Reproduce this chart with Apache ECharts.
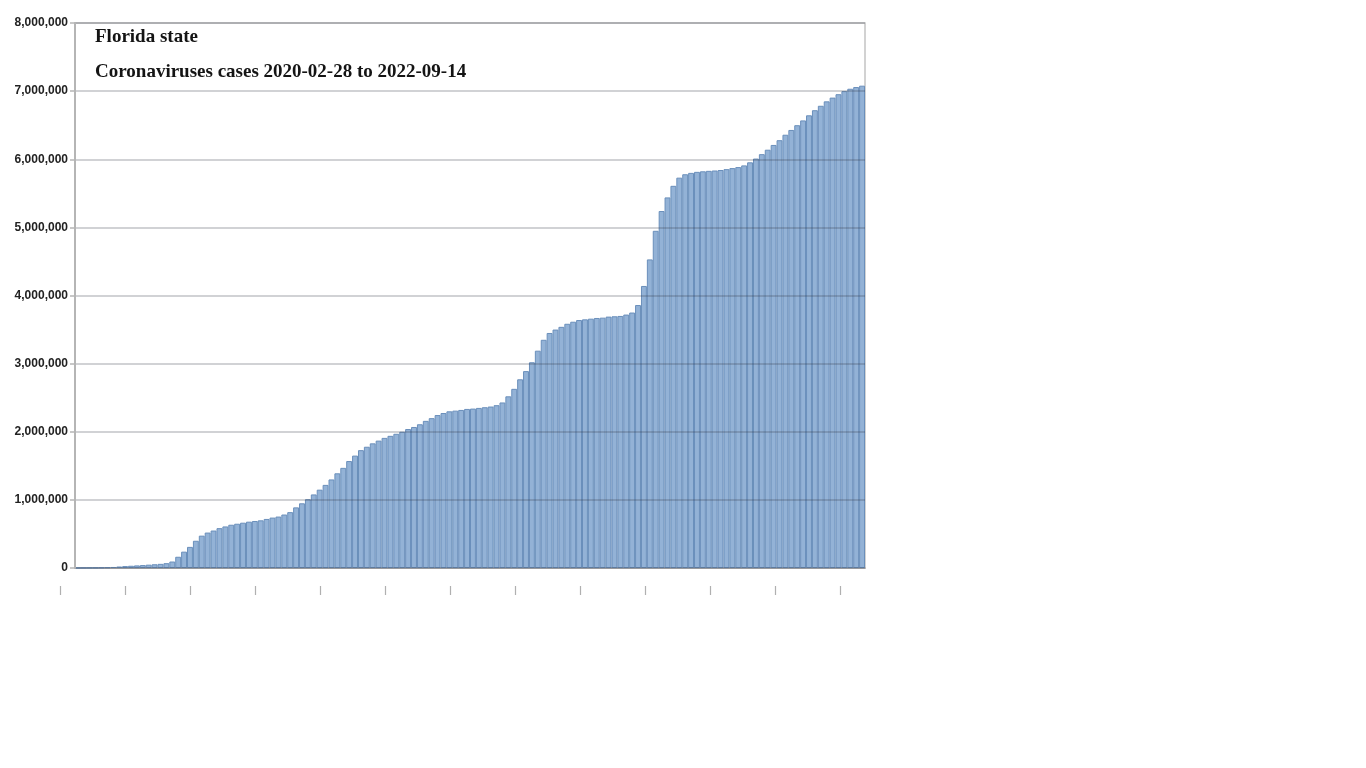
<!DOCTYPE html>
<html>
<head>
<meta charset="utf-8">
<script src="https://cdn.jsdelivr.net/npm/echarts@6/dist/echarts.min.js"></script>
<style>html,body{margin:0;padding:0;background:#fff;}#chart{width:1366px;height:768px;}</style>
</head>
<body>
<div id="chart"></div>
<script>
// Chart title lines
const titleLines = ['Florida state', 'Coronaviruses cases 2020-02-28 to 2022-09-14'];

// Y axis tick values
const yTicks = [0, 1000000, 2000000, 3000000, 4000000, 5000000, 6000000, 7000000, 8000000];

// Weekly cumulative cases (millions)
const casesMillions = [
  0.001, 0.002, 0.003, 0.004, 0.006, 0.010, 0.015, 0.022, 0.028, 0.033,
  0.038, 0.043, 0.049, 0.055, 0.061, 0.071, 0.095, 0.165, 0.24, 0.31,
  0.40, 0.475, 0.52, 0.55, 0.585, 0.61, 0.635, 0.65, 0.665, 0.68,
  0.69, 0.70, 0.72, 0.74, 0.755, 0.785, 0.82, 0.89, 0.95, 1.01,
  1.08, 1.15, 1.22, 1.30, 1.39, 1.47, 1.57, 1.65, 1.73, 1.78,
  1.83, 1.87, 1.91, 1.94, 1.97, 2.00, 2.04, 2.07, 2.11, 2.16,
  2.20, 2.245, 2.275, 2.30, 2.31, 2.32, 2.335, 2.34, 2.35, 2.36,
  2.37, 2.39, 2.43, 2.52, 2.63, 2.77, 2.89, 3.02, 3.19, 3.35,
  3.45, 3.50, 3.54, 3.585, 3.615, 3.64, 3.65, 3.66, 3.67, 3.675,
  3.69, 3.695, 3.70, 3.72, 3.75, 3.86, 4.14, 4.53, 4.95, 5.24,
  5.44, 5.61, 5.73, 5.78, 5.80, 5.815, 5.823, 5.83, 5.835, 5.842,
  5.855, 5.87, 5.885, 5.91, 5.955, 6.01, 6.075, 6.14, 6.21, 6.28,
  6.36, 6.43, 6.50, 6.57, 6.645, 6.72, 6.785, 6.85, 6.905, 6.955,
  7.00, 7.035, 7.06, 7.08
];

// Week categories starting 2020-02-28
const startDate = '2020-02-28';
const weeks = [];
(function () {
  const d0 = new Date(startDate + 'T00:00:00Z');
  for (let i = 0; i < casesMillions.length; i++) {
    const d = new Date(d0.getTime() + i * 7 * 86400000);
    weeks.push(d.toISOString().slice(0, 10));
  }
})();

// Decorative tick positions of the lower strip
const lowerTicks = [0, 1, 2, 3, 4, 5, 6, 7, 8, 9, 10, 11, 12];

const cases = casesMillions.map(v => Math.round(v * 1000000));

const titleFont = {fontFamily: 'Liberation Serif', fontWeight: 'bold', fontSize: 19, color: '#141414'};

const chart = echarts.init(document.getElementById('chart'), null, {renderer: 'canvas'});
chart.setOption({
  animation: false,
  backgroundColor: '#ffffff',
  title: [
    {text: titleLines[0], left: 90, top: 23, textStyle: titleFont},
    {text: titleLines[1], left: 90, top: 58, textStyle: titleFont}
  ],
  grid: [
    {left: 75, right: 501, top: 23, bottom: 200, show: true, borderColor: '#c4c4c4', borderWidth: 1.5},
    {left: 60, width: 780, top: 585, height: 1, show: false}
  ],
  xAxis: [
    {type: 'category', gridIndex: 0, data: weeks, boundaryGap: true,
     axisLine: {show: true, lineStyle: {color: '#b5b5b5', width: 2}},
     axisTick: {show: false}, axisLabel: {show: false}, splitLine: {show: false}},
    {type: 'value', gridIndex: 1, min: lowerTicks[0], max: lowerTicks[lowerTicks.length - 1], interval: 1,
     axisLine: {show: false}, axisLabel: {show: false}, splitLine: {show: false},
     axisTick: {show: true, length: 9, lineStyle: {color: '#b0b0b0', width: 1.2}}}
  ],
  yAxis: [
    {type: 'value', gridIndex: 0, min: yTicks[0], max: yTicks[yTicks.length - 1], interval: 1000000, z: 5,
     axisLine: {show: true, lineStyle: {color: '#b5b5b5', width: 2}},
     axisTick: {show: true, length: 5, lineStyle: {color: '#b5b5b5', width: 1.5}},
     axisLabel: {margin: 7, fontFamily: 'Liberation Sans', fontWeight: 'bold', fontSize: 12, color: '#222',
       formatter: v => v.toLocaleString('en-US')},
     splitLine: {show: true, lineStyle: {color: 'rgba(50,55,70,0.30)', width: 1.5}}},
    {type: 'value', gridIndex: 1, show: false, min: 0, max: 1}
  ],
  series: [
    {type: 'bar', xAxisIndex: 0, yAxisIndex: 0, data: cases, barCategoryGap: '0%',
     itemStyle: {color: '#93b2d6', borderColor: '#6a8fbb', borderWidth: 1}},
    {type: 'line', xAxisIndex: 1, yAxisIndex: 1, data: [], silent: true}
  ]
});
</script>
</body>
</html>
